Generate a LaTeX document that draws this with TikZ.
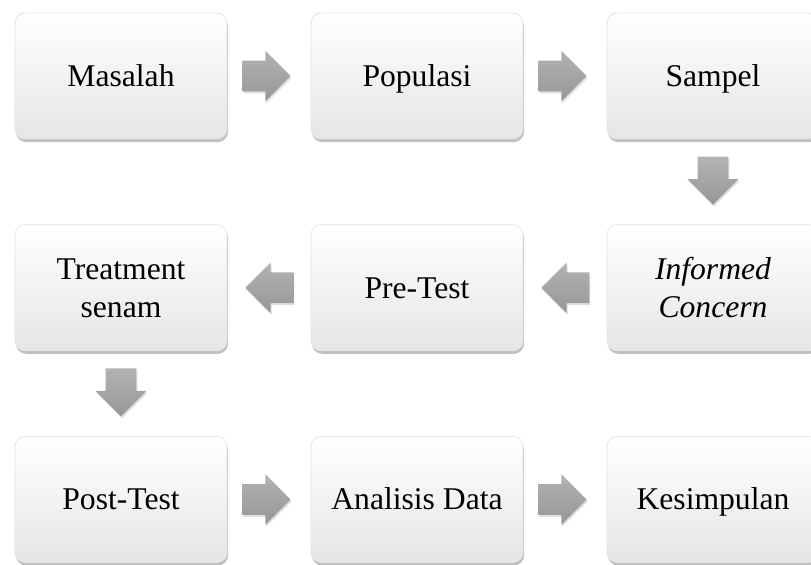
\documentclass[tikz,border=0pt]{standalone}
\usepackage{fontspec}
\setmainfont{Liberation Serif}
\usetikzlibrary{shapes.arrows,shadows,calc,positioning}
\tikzstyle{flowbox} = [rectangle, rounded corners=0.2cm, minimum width=4.24cm, minimum height=2.52cm, align=flush center, text width=3.8cm, draw=gray!22, top color=white, bottom color=gray!20, drop shadow={shadow xshift=0.02cm, shadow yshift=-0.06cm, opacity=0.5}, font=\fontsize{18}{18.5}\selectfont, execute at begin node={\rule[-0.24em]{0pt}{1.14em}}, execute at end node={\rule[-0.24em]{0pt}{1.14em}}]
\tikzstyle{blockarrow} = [single arrow, single arrow head extend=0.2cm, minimum height=0.96cm, inner xsep=0pt, inner ysep=0.3cm, top color=gray!60, bottom color=gray!82, draw=none, drop shadow={shadow xshift=0.02cm, shadow yshift=-0.04cm, opacity=0.25}]

\begin{document}
\begin{tikzpicture}[node distance=5.92cm]
\useasboundingbox (0,0) rectangle (16.22,-11.28);

\node (masalah) [flowbox] at (2.42,-1.52) {Masalah};
\node (populasi) [flowbox, right of=masalah] {Populasi};
\node (sampel) [flowbox, right of=populasi] {Sampel};
%
\node (informed) [flowbox, below of=sampel, node distance=4.235cm] {\textit{Informed Concern}};
\node (pretest) [flowbox, left of=informed] {Pre-Test};
\node (treatment) [flowbox, left of=pretest] {Treatment\\ senam};
%
\node (posttest) [flowbox, below of=treatment, node distance=4.235cm] {Post-Test};
\node (analisis) [flowbox, right of=posttest] {Analisis Data};
\node (kesimpulan) [flowbox, right of=analisis] {Kesimpulan};

\node (ar1) [blockarrow] at ($(masalah)!.5!(populasi)+(-0.2,0)$) {};
\node (ar2) [blockarrow] at ($(populasi)!.5!(sampel)+(-0.2,0)$) {};
\node (ar3) [blockarrow, rotate=-90] at ($(sampel)!.5!(informed)+(0,0.18)$) {};
\node (ar4) [blockarrow, rotate=180] at ($(informed)!.5!(pretest)+(0.16,0)$) {};
\node (ar5) [blockarrow, rotate=180] at ($(pretest)!.5!(treatment)+(0.16,0)$) {};
\node (ar6) [blockarrow, rotate=-90] at ($(treatment)!.5!(posttest)+(0,0.18)$) {};
\node (ar7) [blockarrow] at ($(posttest)!.5!(analisis)+(-0.2,0)$) {};
\node (ar8) [blockarrow] at ($(analisis)!.5!(kesimpulan)+(-0.2,0)$) {};

\end{tikzpicture}
\end{document}
